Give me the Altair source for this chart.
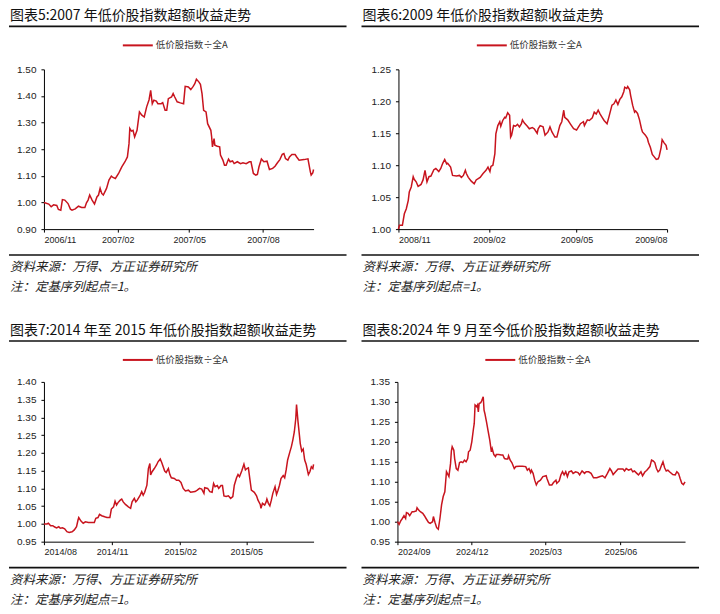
import altair as alt
import pandas as pd

# ---------------- data ----------------
titles = [
    "图表5:2007 年低价股指数超额收益走势",
    "图表6:2009 年低价股指数超额收益走势",
    "图表7:2014 年至 2015 年低价股指数超额收益走势",
    "图表8:2024 年 9 月至今低价股指数超额收益走势",
]
legend_label = "低价股指数÷全A"
source_note = "资料来源：万得、方正证券研究所"
base_note = "注：定基序列起点=1。"

dates_5 = ["2006-11-01", "2006-11-07", "2006-11-10", "2006-11-13", "2006-11-17", "2006-11-19", "2006-11-22", "2006-11-24",
           "2006-11-27", "2006-12-01", "2006-12-04", "2006-12-06", "2006-12-10", "2006-12-14", "2006-12-18", "2006-12-22",
           "2006-12-24", "2006-12-26", "2006-12-28", "2006-12-31", "2007-01-03", "2007-01-06", "2007-01-08", "2007-01-10",
           "2007-01-12", "2007-01-14", "2007-01-18", "2007-01-21", "2007-01-24", "2007-01-26", "2007-01-29", "2007-02-02",
           "2007-02-06", "2007-02-10", "2007-02-13", "2007-02-15", "2007-02-16", "2007-02-18", "2007-02-20", "2007-02-22",
           "2007-02-25", "2007-02-28", "2007-03-03", "2007-03-06", "2007-03-09", "2007-03-12", "2007-03-14", "2007-03-16",
           "2007-03-18", "2007-03-21", "2007-03-23", "2007-03-27", "2007-03-29", "2007-04-01", "2007-04-03", "2007-04-05",
           "2007-04-09", "2007-04-11", "2007-04-13", "2007-04-16", "2007-04-20", "2007-04-24", "2007-04-26", "2007-04-30",
           "2007-05-03", "2007-05-06", "2007-05-08", "2007-05-10", "2007-05-13", "2007-05-15", "2007-05-17", "2007-05-19",
           "2007-05-22", "2007-05-24", "2007-05-28", "2007-05-29", "2007-05-30", "2007-06-01", "2007-06-02", "2007-06-05",
           "2007-06-08", "2007-06-09", "2007-06-12", "2007-06-14", "2007-06-16", "2007-06-19", "2007-06-21", "2007-06-24",
           "2007-06-26", "2007-06-30", "2007-07-04", "2007-07-07", "2007-07-11", "2007-07-15", "2007-07-17", "2007-07-20",
           "2007-07-23", "2007-07-25", "2007-07-27", "2007-07-30", "2007-08-02", "2007-08-06", "2007-08-09", "2007-08-13",
           "2007-08-16", "2007-08-19", "2007-08-22", "2007-08-25", "2007-08-27", "2007-08-29", "2007-09-01", "2007-09-03",
           "2007-09-06", "2007-09-10", "2007-09-12", "2007-09-15", "2007-09-21", "2007-09-26", "2007-09-29", "2007-09-30",
           "2007-10-02", "2007-10-03"]
values_5 = [1.000, 0.994, 0.984, 0.991, 0.989, 0.974, 0.971, 1.011, 1.009, 0.996, 0.975, 0.971, 0.976, 0.986, 0.981, 0.981,
            0.999, 1.009, 1.028, 1.009, 0.994, 1.021, 1.028, 1.053, 1.034, 1.028, 1.053, 1.084, 1.099, 1.094, 1.090, 1.109,
            1.134, 1.153, 1.171, 1.221, 1.278, 1.268, 1.271, 1.246, 1.271, 1.340, 1.328, 1.321, 1.359, 1.386, 1.421, 1.371,
            1.384, 1.381, 1.371, 1.371, 1.375, 1.346, 1.346, 1.390, 1.396, 1.409, 1.396, 1.378, 1.374, 1.371, 1.436, 1.434,
            1.424, 1.436, 1.446, 1.463, 1.453, 1.444, 1.409, 1.346, 1.340, 1.296, 1.271, 1.246, 1.209, 1.240, 1.215, 1.211,
            1.209, 1.178, 1.159, 1.140, 1.140, 1.163, 1.153, 1.156, 1.146, 1.153, 1.146, 1.149, 1.146, 1.153, 1.153, 1.109,
            1.103, 1.105, 1.134, 1.163, 1.153, 1.155, 1.124, 1.128, 1.136, 1.149, 1.161, 1.181, 1.184, 1.165, 1.159, 1.171,
            1.180, 1.180, 1.171, 1.159, 1.161, 1.164, 1.115, 1.103, 1.111, 1.124]

dates_6 = ["2008-11-01", "2008-11-02", "2008-11-03", "2008-11-05", "2008-11-07", "2008-11-09", "2008-11-11", "2008-11-12",
           "2008-11-14", "2008-11-16", "2008-11-17", "2008-11-19", "2008-11-21", "2008-11-24", "2008-11-26", "2008-11-28",
           "2008-11-30", "2008-12-02", "2008-12-04", "2008-12-07", "2008-12-09", "2008-12-12", "2008-12-14", "2008-12-16",
           "2008-12-18", "2008-12-20", "2008-12-21", "2008-12-24", "2008-12-26", "2008-12-30", "2009-01-02", "2009-01-04",
           "2009-01-06", "2009-01-08", "2009-01-09", "2009-01-11", "2009-01-14", "2009-01-17", "2009-01-19", "2009-01-23",
           "2009-01-26", "2009-01-29", "2009-01-31", "2009-02-02", "2009-02-03", "2009-02-05", "2009-02-07", "2009-02-08",
           "2009-02-10", "2009-02-12", "2009-02-13", "2009-02-15", "2009-02-17", "2009-02-18", "2009-02-20", "2009-02-22",
           "2009-02-23", "2009-02-24", "2009-02-26", "2009-02-28", "2009-03-02", "2009-03-04", "2009-03-06", "2009-03-07",
           "2009-03-09", "2009-03-12", "2009-03-14", "2009-03-17", "2009-03-19", "2009-03-22", "2009-03-23", "2009-03-25",
           "2009-03-28", "2009-03-30", "2009-04-02", "2009-04-04", "2009-04-06", "2009-04-09", "2009-04-11", "2009-04-14",
           "2009-04-16", "2009-04-18", "2009-04-19", "2009-04-22", "2009-04-25", "2009-04-28", "2009-05-01", "2009-05-03",
           "2009-05-05", "2009-05-08", "2009-05-09", "2009-05-12", "2009-05-14", "2009-05-17", "2009-05-19", "2009-05-21",
           "2009-05-23", "2009-05-25", "2009-05-27", "2009-05-29", "2009-06-01", "2009-06-03", "2009-06-06", "2009-06-08",
           "2009-06-10", "2009-06-12", "2009-06-14", "2009-06-16", "2009-06-18", "2009-06-19", "2009-06-21", "2009-06-22",
           "2009-06-24", "2009-06-25", "2009-06-27", "2009-06-29", "2009-06-30", "2009-07-02", "2009-07-04", "2009-07-06",
           "2009-07-07", "2009-07-10", "2009-07-12", "2009-07-13", "2009-07-15", "2009-07-17", "2009-07-19", "2009-07-21",
           "2009-07-23", "2009-07-24", "2009-07-26", "2009-07-27", "2009-07-29", "2009-07-31", "2009-08-01"]
values_6 = [1.000, 1.006, 1.006, 1.006, 1.024, 1.032, 1.045, 1.058, 1.066, 1.082, 1.078, 1.074, 1.067, 1.070, 1.077, 1.092,
            1.074, 1.082, 1.083, 1.093, 1.095, 1.090, 1.095, 1.103, 1.109, 1.102, 1.103, 1.097, 1.084, 1.083, 1.084, 1.081,
            1.084, 1.092, 1.087, 1.081, 1.075, 1.071, 1.077, 1.081, 1.087, 1.092, 1.097, 1.090, 1.098, 1.100, 1.118, 1.149,
            1.162, 1.168, 1.161, 1.170, 1.175, 1.174, 1.182, 1.178, 1.144, 1.147, 1.162, 1.161, 1.164, 1.160, 1.165, 1.171,
            1.166, 1.161, 1.157, 1.159, 1.157, 1.150, 1.157, 1.162, 1.160, 1.147, 1.152, 1.160, 1.152, 1.144, 1.144, 1.162,
            1.168, 1.186, 1.175, 1.171, 1.164, 1.157, 1.155, 1.160, 1.165, 1.168, 1.162, 1.171, 1.170, 1.174, 1.183, 1.180,
            1.186, 1.180, 1.175, 1.170, 1.165, 1.176, 1.194, 1.196, 1.202, 1.195, 1.203, 1.207, 1.215, 1.222, 1.220, 1.223,
            1.218, 1.209, 1.194, 1.183, 1.185, 1.181, 1.171, 1.157, 1.152, 1.147, 1.142, 1.136, 1.128, 1.117, 1.113, 1.109,
            1.110, 1.114, 1.128, 1.140, 1.135, 1.131, 1.124]

dates_7 = ["2014-08-01", "2014-08-05", "2014-08-07", "2014-08-10", "2014-08-13", "2014-08-15", "2014-08-18", "2014-08-21",
           "2014-08-23", "2014-08-26", "2014-08-29", "2014-09-01", "2014-09-04", "2014-09-08", "2014-09-11", "2014-09-14",
           "2014-09-16", "2014-09-17", "2014-09-20", "2014-09-23", "2014-09-26", "2014-09-30", "2014-10-05", "2014-10-08",
           "2014-10-10", "2014-10-13", "2014-10-15", "2014-10-18", "2014-10-22", "2014-10-25", "2014-10-29", "2014-10-31",
           "2014-11-03", "2014-11-05", "2014-11-07", "2014-11-09", "2014-11-12", "2014-11-14", "2014-11-16", "2014-11-19",
           "2014-11-23", "2014-11-26", "2014-11-28", "2014-12-01", "2014-12-03", "2014-12-05", "2014-12-09", "2014-12-11",
           "2014-12-13", "2014-12-15", "2014-12-18", "2014-12-20", "2014-12-22", "2014-12-23", "2014-12-25", "2014-12-28",
           "2014-12-31", "2015-01-02", "2015-01-05", "2015-01-07", "2015-01-09", "2015-01-11", "2015-01-13", "2015-01-16",
           "2015-01-18", "2015-01-20", "2015-01-24", "2015-01-27", "2015-01-30", "2015-02-02", "2015-02-05", "2015-02-08",
           "2015-02-12", "2015-02-15", "2015-02-21", "2015-02-24", "2015-02-27", "2015-03-02", "2015-03-05", "2015-03-06",
           "2015-03-10", "2015-03-13", "2015-03-16", "2015-03-18", "2015-03-20", "2015-03-23", "2015-03-25", "2015-03-28",
           "2015-03-30", "2015-04-01", "2015-04-04", "2015-04-07", "2015-04-10", "2015-04-13", "2015-04-15", "2015-04-18",
           "2015-04-20", "2015-04-22", "2015-04-25", "2015-04-28", "2015-04-30", "2015-05-02", "2015-05-04", "2015-05-06",
           "2015-05-08", "2015-05-12", "2015-05-15", "2015-05-17", "2015-05-20", "2015-05-21", "2015-05-23", "2015-05-26",
           "2015-05-28", "2015-05-29", "2015-05-31", "2015-06-02", "2015-06-04", "2015-06-06", "2015-06-09", "2015-06-11",
           "2015-06-13", "2015-06-15", "2015-06-17", "2015-06-20", "2015-06-22", "2015-06-24", "2015-06-26", "2015-06-29",
           "2015-07-01", "2015-07-03", "2015-07-05", "2015-07-07", "2015-07-08", "2015-07-10", "2015-07-12", "2015-07-13",
           "2015-07-15", "2015-07-17", "2015-07-19", "2015-07-21", "2015-07-24", "2015-07-26", "2015-07-28", "2015-07-30",
           "2015-07-31"]
values_7 = [1.000, 1.000, 1.002, 0.995, 0.995, 0.992, 0.989, 0.992, 0.988, 0.989, 0.986, 0.978, 0.976, 0.978, 0.983, 0.992,
            1.011, 1.018, 1.008, 1.002, 1.006, 1.004, 1.004, 1.004, 1.016, 1.018, 1.027, 1.023, 1.020, 1.018, 1.018, 1.042,
            1.048, 1.064, 1.053, 1.060, 1.067, 1.070, 1.062, 1.055, 1.048, 1.044, 1.062, 1.072, 1.062, 1.067, 1.081, 1.091,
            1.081, 1.089, 1.109, 1.156, 1.170, 1.138, 1.147, 1.156, 1.166, 1.175, 1.183, 1.173, 1.161, 1.149, 1.145, 1.156,
            1.139, 1.130, 1.128, 1.123, 1.123, 1.117, 1.100, 1.093, 1.095, 1.089, 1.091, 1.095, 1.100, 1.098, 1.086, 1.102,
            1.100, 1.091, 1.089, 1.114, 1.105, 1.108, 1.100, 1.108, 1.108, 1.079, 1.077, 1.079, 1.072, 1.077, 1.109, 1.130,
            1.139, 1.133, 1.149, 1.168, 1.152, 1.156, 1.158, 1.126, 1.095, 1.089, 1.079, 1.067, 1.055, 1.044, 1.058, 1.053,
            1.062, 1.070, 1.058, 1.051, 1.067, 1.086, 1.105, 1.083, 1.095, 1.109, 1.128, 1.136, 1.130, 1.152, 1.180, 1.203,
            1.217, 1.236, 1.259, 1.297, 1.336, 1.288, 1.248, 1.227, 1.205, 1.211, 1.180, 1.168, 1.139, 1.147, 1.161, 1.156,
            1.168]

dates_8 = ["2024-09-01", "2024-09-03", "2024-09-05", "2024-09-07", "2024-09-09", "2024-09-11", "2024-09-12", "2024-09-14",
           "2024-09-16", "2024-09-19", "2024-09-21", "2024-09-24", "2024-09-25", "2024-09-27", "2024-09-29", "2024-10-02",
           "2024-10-04", "2024-10-06", "2024-10-09", "2024-10-11", "2024-10-14", "2024-10-15", "2024-10-17", "2024-10-19",
           "2024-10-21", "2024-10-23", "2024-10-25", "2024-10-27", "2024-10-29", "2024-10-30", "2024-10-31", "2024-11-02",
           "2024-11-03", "2024-11-05", "2024-11-06", "2024-11-07", "2024-11-09", "2024-11-10", "2024-11-12", "2024-11-14",
           "2024-11-15", "2024-11-16", "2024-11-18", "2024-11-20", "2024-11-22", "2024-11-24", "2024-11-26", "2024-11-27",
           "2024-11-29", "2024-12-01", "2024-12-03", "2024-12-04", "2024-12-05", "2024-12-07", "2024-12-08", "2024-12-09",
           "2024-12-10", "2024-12-12", "2024-12-13", "2024-12-15", "2024-12-16", "2024-12-17", "2024-12-19", "2024-12-21",
           "2024-12-23", "2024-12-25", "2024-12-26", "2024-12-28", "2024-12-30", "2024-12-31", "2025-01-03", "2025-01-06",
           "2025-01-08", "2025-01-10", "2025-01-12", "2025-01-14", "2025-01-15", "2025-01-17", "2025-01-19", "2025-01-22",
           "2025-01-24", "2025-01-28", "2025-02-01", "2025-02-05", "2025-02-07", "2025-02-09", "2025-02-11", "2025-02-12",
           "2025-02-14", "2025-02-16", "2025-02-18", "2025-02-20", "2025-02-23", "2025-02-26", "2025-03-02", "2025-03-03",
           "2025-03-06", "2025-03-09", "2025-03-11", "2025-03-14", "2025-03-15", "2025-03-18", "2025-03-20", "2025-03-22",
           "2025-03-24", "2025-03-26", "2025-03-28", "2025-03-30", "2025-04-02", "2025-04-04", "2025-04-07", "2025-04-10",
           "2025-04-12", "2025-04-15", "2025-04-18", "2025-04-20", "2025-04-23", "2025-04-26", "2025-04-29", "2025-05-03",
           "2025-05-07", "2025-05-10", "2025-05-13", "2025-05-16", "2025-05-19", "2025-05-21", "2025-05-23", "2025-05-26",
           "2025-05-29", "2025-06-01", "2025-06-04", "2025-06-06", "2025-06-08", "2025-06-11", "2025-06-14", "2025-06-16",
           "2025-06-18", "2025-06-21", "2025-06-23", "2025-06-26", "2025-06-28", "2025-07-01", "2025-07-03", "2025-07-05",
           "2025-07-07", "2025-07-09", "2025-07-11", "2025-07-13", "2025-07-15", "2025-07-17", "2025-07-19", "2025-07-21",
           "2025-07-23", "2025-07-25", "2025-07-27", "2025-07-29", "2025-07-31", "2025-08-04", "2025-08-07", "2025-08-09",
           "2025-08-11", "2025-08-13", "2025-08-15", "2025-08-17", "2025-08-19"]
values_8 = [1.000, 0.993, 1.002, 1.008, 1.015, 1.008, 1.023, 1.021, 1.015, 1.025, 1.025, 1.027, 1.035, 1.029, 1.025, 1.021,
            1.015, 1.008, 0.998, 0.996, 1.000, 1.013, 0.998, 0.985, 0.981, 1.008, 1.042, 1.063, 1.075, 1.100, 1.125, 1.117,
            1.113, 1.146, 1.177, 1.188, 1.179, 1.158, 1.133, 1.129, 1.138, 1.148, 1.150, 1.148, 1.154, 1.150, 1.158, 1.175,
            1.179, 1.200, 1.232, 1.246, 1.292, 1.288, 1.292, 1.275, 1.296, 1.298, 1.302, 1.313, 1.279, 1.271, 1.250, 1.227,
            1.204, 1.175, 1.183, 1.168, 1.163, 1.168, 1.168, 1.167, 1.167, 1.158, 1.157, 1.157, 1.165, 1.154, 1.148, 1.133,
            1.138, 1.139, 1.139, 1.138, 1.129, 1.133, 1.123, 1.129, 1.121, 1.104, 1.092, 1.100, 1.104, 1.113, 1.115, 1.108,
            1.092, 1.092, 1.098, 1.104, 1.096, 1.102, 1.117, 1.125, 1.117, 1.125, 1.113, 1.125, 1.127, 1.121, 1.125, 1.123,
            1.117, 1.127, 1.121, 1.125, 1.125, 1.121, 1.110, 1.110, 1.113, 1.115, 1.110, 1.121, 1.133, 1.127, 1.118, 1.125,
            1.132, 1.132, 1.132, 1.127, 1.133, 1.129, 1.132, 1.125, 1.127, 1.121, 1.117, 1.125, 1.115, 1.125, 1.128, 1.133,
            1.138, 1.154, 1.152, 1.148, 1.133, 1.125, 1.129, 1.140, 1.150, 1.135, 1.127, 1.129, 1.125, 1.118, 1.117, 1.125,
            1.121, 1.108, 1.096, 1.093, 1.100]

x_ticks_5 = ["2006-11-01", "2007-02-01", "2007-05-01", "2007-08-01"]
x_ticks_6 = ["2008-11-01", "2009-02-01", "2009-05-01", "2009-08-01"]
x_ticks_7 = ["2014-08-01", "2014-11-01", "2015-02-01", "2015-05-01"]
x_ticks_8 = ["2024-09-01", "2024-12-01", "2025-03-01", "2025-06-01"]

y_ticks_5 = [0.90, 1.00, 1.10, 1.20, 1.30, 1.40, 1.50]
y_ticks_6 = [1.00, 1.05, 1.10, 1.15, 1.20, 1.25]
y_ticks_7 = [0.95, 1.00, 1.05, 1.10, 1.15, 1.20, 1.25, 1.30, 1.35, 1.40]
y_ticks_8 = [0.95, 1.00, 1.05, 1.10, 1.15, 1.20, 1.25, 1.30, 1.35]

# ---------------- styling ----------------
RED = "#C8141E"
CJK = "Noto Sans CJK SC"
LAT = "Liberation Sans"
W, H = 704, 600


def dt(s):
    y, m, d = (int(p) for p in s.split("-"))
    return alt.DateTime(year=y, month=m, date=d, utc=True)


def panel(title, dates, values, xticks, yticks, px0, px1, py0, py1, left, top):
    """px0..px1 / py0 (top) .. py1 (bottom): plot rectangle; left/top: panel origin."""
    df = pd.DataFrame({"date": dates, "value": values})
    line = alt.Chart(df).mark_line(color=RED, strokeWidth=1.5).encode(
        x=alt.X("date:T",
                scale=alt.Scale(type="utc", range=[px0, px1]),
                axis=alt.Axis(orient="bottom", offset=py1 - H, values=[dt(t) for t in xticks],
                              labelExpr="utcFormat(datum.value, '%Y/%m')", grid=False, title=None,
                              domainColor="#000", domainWidth=1, tickColor="#000", tickSize=3,
                              labelFont=LAT, labelFontSize=9, labelColor="#222", labelPadding=3,
                              labelOverlap=False)),
        y=alt.Y("value:Q",
                scale=alt.Scale(domain=[yticks[0], yticks[-1]], range=[py1, py0], zero=False, nice=False),
                axis=alt.Axis(orient="left", offset=-px0, values=yticks, format=".2f", grid=False,
                              title=None, domainColor="#000", domainWidth=1, tickColor="#000",
                              tickSize=3, labelFont=LAT, labelFontSize=10, labelColor="#222",
                              labelPadding=5)),
    )
    one = pd.DataFrame({"t": [title], "s": [source_note], "n": [base_note], "l": [legend_label]})
    base = alt.Chart(one)
    ttl = base.mark_text(font=CJK, fontSize=14, color="#111", align="left", baseline="middle").encode(
        text="t:N", x=alt.value(left + 1), y=alt.value(top + 8))
    rule_top = base.mark_rule(color="#111", strokeWidth=1.6).encode(
        x=alt.value(left), x2=alt.value(left + 338), y=alt.value(top + 18))
    rule_bot = base.mark_rule(color="#111", strokeWidth=1.6).encode(
        x=alt.value(left), x2=alt.value(left + 338), y=alt.value(py1 + 26))
    lg_x = (px0 + px1) / 2 - 56
    leg_line = base.mark_rule(color=RED, strokeWidth=2).encode(
        x=alt.value(lg_x), x2=alt.value(lg_x + 30), y=alt.value(top + 37))
    leg_txt = base.mark_text(font=CJK, fontSize=9.5, color="#333", align="left", baseline="middle").encode(
        text="l:N", x=alt.value(lg_x + 33), y=alt.value(top + 37))
    src = base.mark_text(font=CJK, fontSize=12.5, fontStyle="italic", color="#222", align="left",
                         baseline="middle").encode(text="s:N", x=alt.value(left + 1), y=alt.value(py1 + 38))
    note = base.mark_text(font=CJK, fontSize=12.5, fontStyle="italic", color="#222", align="left",
                          baseline="middle").encode(text="n:N", x=alt.value(left + 1), y=alt.value(py1 + 58))
    return [line, ttl, rule_top, rule_bot, leg_line, leg_txt, src, note]


layers = []
layers += panel(titles[0], dates_5, values_5, x_ticks_5, y_ticks_5, 35, 305, 61, 221, 0, 0)
layers += panel(titles[1], dates_6, values_6, x_ticks_6, y_ticks_6, 390, 659, 61, 221, 353, 0)
layers += panel(titles[2], dates_7, values_7, x_ticks_7, y_ticks_7, 35, 305, 374, 534, 0, 315)
layers += panel(titles[3], dates_8, values_8, x_ticks_8, y_ticks_8, 389, 677, 374, 534, 353, 315)

chart = alt.layer(*layers).resolve_scale(x="independent", y="independent").properties(
    width=W, height=H, padding=0, background="white"
).configure_view(strokeWidth=0)

chart.save("out.html", embed_options={"renderer": "svg", "actions": False})
